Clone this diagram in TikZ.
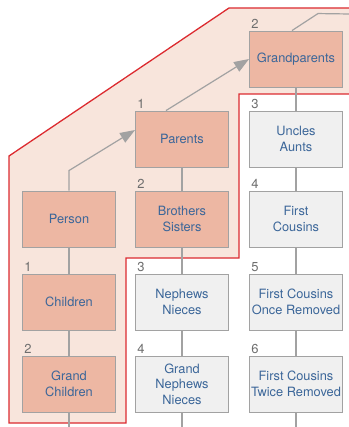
\documentclass[tikz,border=0pt]{standalone}
\usepackage{fontspec}
\setmainfont{TeX Gyre Heros}
\usepackage{tikz}
\usetikzlibrary{arrows.meta}
\usepackage{xcolor}
\definecolor{salmao}{HTML}{EDB7A3}
\definecolor{cinza}{HTML}{F0F0F0}
\definecolor{borda}{HTML}{A2A2A2}
\definecolor{texto}{HTML}{3B6699}
\definecolor{numcor}{HTML}{6E6E6E}
\definecolor{vermelho}{HTML}{DC2B30}
\definecolor{sombra}{HTML}{F8E5DC}

\begin{document}
\begin{tikzpicture}[x=1pt, y=-1pt,
    caixa/.style={draw=borda, line width=0.9pt, minimum width=93pt, minimum height=56pt,
        inner sep=0pt, align=center, text=texto, font=\fontsize{12.8}{15.5}\selectfont},
    parente/.style={caixa, fill=salmao},
    outro/.style={caixa, fill=cinza},
    num/.style={anchor=south west, inner sep=2pt, text=numcor, font=\fontsize{13}{13}\selectfont},
    liga/.style={draw=borda, line width=1.2pt},
    seta/.style={liga, -{Triangle[length=15pt, width=11pt]}}]
        \useasboundingbox (0,0) rectangle (348,427);

        % Regiao marcada
        \filldraw[fill=sombra, draw=vermelho, line width=1.3pt]
            (9,156) -- (229,8) -- (352,8) -- (352,94) -- (239,94) -- (239,258)
            -- (126,258) -- (126,423) -- (9,423) -- cycle;

        % Primeira coluna
        \node[parente] (person) at (69,219) {Person};
        \node[parente] (children) at (69,302) {Children};
        \node[parente] (grandchildren) at (69,384) {Grand\\Children};

        % Segunda coluna
        \node[parente] (parents) at (182,139) {Parents};
        \node[parente] (siblings) at (182,219) {Brothers\\Sisters};
        \node[outro] (nephews) at (182,302) {Nephews\\Nieces};
        \node[outro] (grandnephews) at (182,384) {Grand\\Nephews\\Nieces};

        % Terceira coluna
        \node[parente] (grandparents) at (296,59) {Grandparents};
        \node[outro] (uncles) at (296,139) {Uncles\\Aunts};
        \node[outro] (cousins) at (296,219) {First\\Cousins};
        \node[outro] (once) at (296,302) {First Cousins\\Once Removed};
        \node[outro] (twice) at (296,384) {First Cousins\\Twice Removed};

        % Graus
        \node[num] (n-children) at (children.north west) {1};
        \node[num] (n-grandchildren) at (grandchildren.north west) {2};
        \node[num] (n-parents) at (parents.north west) {1};
        \node[num] (n-siblings) at (siblings.north west) {2};
        \node[num] (n-nephews) at (nephews.north west) {3};
        \node[num] (n-grandnephews) at (grandnephews.north west) {4};
        \node[num] (n-grandparents) at (grandparents.north west) {2};
        \node[num] (n-uncles) at (uncles.north west) {3};
        \node[num] (n-cousins) at (cousins.north west) {4};
        \node[num] (n-once) at (once.north west) {5};
        \node[num] (n-twice) at (twice.north west) {6};

        % Ligacoes
        \coordinate (fimA) at (69,427);
        \coordinate (fimB) at (182,427);
        \coordinate (fimC) at (296,427);
        \coordinate (fimG) at (350,14);

        \draw[seta] (person.north) -- ++(0,-20) -- ([yshift=9pt]parents.west);
        \draw[seta] ([xshift=-16pt]parents.north) -- (grandparents.west);
        \draw[liga] ([xshift=-4pt]grandparents.north) -- ++(26,-17) -- (fimG);

        \draw[liga] (person) -- (children);
        \draw[liga] (children) -- (grandchildren);
        \draw[liga] (grandchildren) -- (fimA);

        \draw[liga] (parents) -- (siblings);
        \draw[liga] (siblings) -- (nephews);
        \draw[liga] (nephews) -- (grandnephews);
        \draw[liga] (grandnephews) -- (fimB);

        \draw[liga] (grandparents) -- (uncles);
        \draw[liga] (uncles) -- (cousins);
        \draw[liga] (cousins) -- (once);
        \draw[liga] (once) -- (twice);
        \draw[liga] (twice) -- (fimC);
    \end{tikzpicture}
\end{document}
